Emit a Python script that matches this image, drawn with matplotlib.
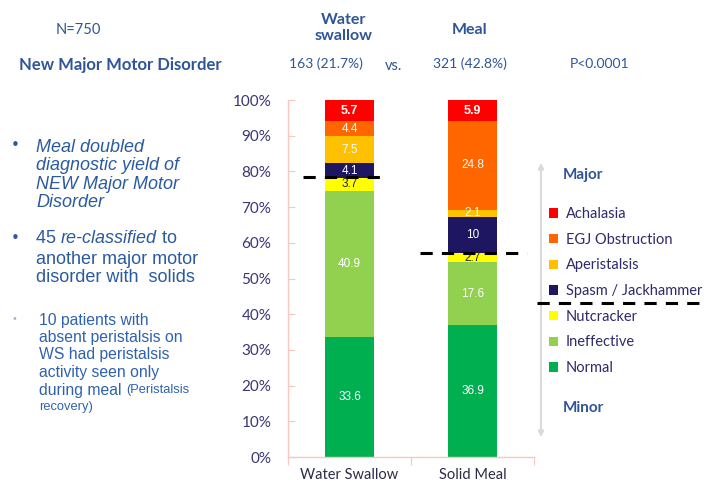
import matplotlib
matplotlib.use("Agg")
import matplotlib.pyplot as plt
from matplotlib.patches import Patch, FancyArrowPatch
from matplotlib.lines import Line2D
import numpy as np

categories = ["Water Swallow", "Solid Meal"]
series_names = ["Normal", "Ineffective", "Nutcracker", "Spasm / Jackhammer",
                "Aperistalsis", "EGJ Obstruction", "Achalasia"]
normal = [33.6, 36.9]
ineffective = [40.9, 17.6]
nutcracker = [3.7, 2.7]
spasm = [4.1, 10]
aperistalsis = [7.5, 2.1]
egj = [4.4, 24.8]
achalasia = [5.7, 5.9]
yticks = [0, 10, 20, 30, 40, 50, 60, 70, 80, 90, 100]
major_cut = [78.4, 57.1]

colors = ["#00B050", "#92D050", "#FFFF00", "#1E1660", "#FFC000", "#FF6600", "#FF0000"]
label_colors = ["white", "white", "#222222", "white", "white", "white", "white"]

W, H = 707, 486
fig = plt.figure(figsize=(W / 100, H / 100), dpi=100)
ax = fig.add_axes([288 / W, 1 - 457 / H, 246 / W, 357 / H])

series = [normal, ineffective, nutcracker, spasm, aperistalsis, egj, achalasia]
x = np.arange(len(categories))
bottom = np.zeros(len(categories))
for name, vals, col, lc in zip(series_names, series, colors, label_colors):
    vals = np.array(vals, dtype=float)
    ax.bar(x, vals, bottom=bottom, width=0.4, color=col, label=name, zorder=2)
    for xi, v, b in zip(x, vals, bottom):
        bold = name == "Achalasia"
        ax.text(xi, b + v / 2, f"{v:g}", ha="center", va="center",
                color=lc, fontsize=9 if bold else 8.5,
                fontweight="bold" if bold else "normal",
                family="Liberation Sans", zorder=4)
    bottom += vals

ax.set_xlim(-0.5, 1.5)
ax.set_ylim(0, 100)
ax.set_yticks(yticks)
ax.set_yticklabels([f"{t}%" for t in yticks])
ax.set_xticks([-0.5, 0.5, 1.5], minor=False)
ax.set_xticklabels([])
ax.set_xticks(x, minor=True)
ax.set_xticklabels(categories, minor=True)
ax.tick_params(axis="x", which="minor", length=0, pad=8, labelsize=10.5,
               labelcolor="#2B2B4A")
ax.tick_params(axis="x", which="major", length=6, direction="out", color="#F8C8C0")
ax.tick_params(axis="y", length=5, direction="in", color="#F8C8C0",
               labelsize=11, labelcolor="#3A3575", pad=12)
for lab in ax.get_yticklabels() + ax.get_xticklabels(minor=True):
    lab.set_family("Lato")
for s in ["top", "right"]:
    ax.spines[s].set_visible(False)
for s in ["left", "bottom"]:
    ax.spines[s].set_color("#F8C8C0")
    ax.spines[s].set_linewidth(1)

# dashed cut lines (major / minor boundary)
ax.plot([-0.38, 0.27], [major_cut[0]] * 2, ls=(0, (4, 3)), color="black", lw=2.2,
        clip_on=False, zorder=5)
ax.plot([0.57, 1.44], [major_cut[1]] * 2, ls=(0, (4, 3)), color="black", lw=2.2,
        clip_on=False, zorder=5)

# legend
handles = [Patch(facecolor=c, edgecolor="none") for c in colors][::-1]
leg = fig.legend(handles, series_names[::-1], loc="upper left",
                 bbox_to_anchor=(536 / W, 1 - 194 / H), frameon=False,
                 handlelength=0.6, handleheight=0.6, handletextpad=0.55,
                 labelspacing=0.8, prop={"family": "Lato", "size": 10.5})
for t in leg.get_texts():
    t.set_color("#2E2A6B")

fig.add_artist(Line2D([537 / W, 1.0], [1 - 303 / H] * 2, ls=(0, (4, 3)),
                      color="black", lw=2.2))
fig.patches.append(FancyArrowPatch(
    (541 / W, 1 - 160 / H), (541 / W, 1 - 440 / H), transform=fig.transFigure,
    arrowstyle="<|-|>", mutation_scale=8, color="#DADADA", lw=1.5))
blue = "#2F5597"
fig.text(583 / W, 1 - 175 / H, "Major", ha="center", va="center", color=blue,
         fontsize=11, fontweight="bold", family="Lato")
fig.text(583 / W, 1 - 408 / H, "Minor", ha="center", va="center", color=blue,
         fontsize=11, fontweight="bold", family="Lato")

# header
fig.text(78 / W, 1 - 30 / H, "N=750", ha="center", va="center", color=blue,
         fontsize=10.5, family="Lato")
fig.text(344 / W, 1 - 28 / H, "Water\nswallow", ha="center", va="center",
         color=blue, fontsize=11.5, fontweight="bold", family="Lato", linespacing=1.2)
fig.text(470 / W, 1 - 30 / H, "Meal", ha="center", va="center", color=blue,
         fontsize=11.5, fontweight="bold", family="Lato")
fig.text(120 / W, 1 - 65 / H, "New Major Motor Disorder", ha="center", va="center",
         color=blue, fontsize=12, fontweight="bold", family="Lato")
fig.text(326 / W, 1 - 64 / H, "163 (21.7%)", ha="center", va="center", color=blue,
         fontsize=10, family="Lato")
fig.text(394 / W, 1 - 66 / H, "vs.", ha="center", va="center", color=blue,
         fontsize=10.5, family="Lato")
fig.text(470 / W, 1 - 64 / H, "321 (42.8%)", ha="center", va="center", color=blue,
         fontsize=10, family="Lato")
fig.text(600 / W, 1 - 64 / H, "P<0.0001", ha="center", va="center", color=blue,
         fontsize=10, family="Lato")

renderer = fig.canvas.get_renderer()


def runs(x0, y, parts, **kw):
    """Draw consecutive text pieces on one line (x0, y in pixels from top-left)."""
    xp = x0
    for txt, style, size in parts:
        t = fig.text(xp / W, 1 - y / H, txt, ha="left", va="center",
                     style=style, fontsize=size, **kw)
        xp += t.get_window_extent(renderer).width


# left bullet text
tb = "#2A5AA0"
fs1 = 13
fig.text(15 / W, 1 - 145 / H, "•", ha="center", va="center", color=tb, fontsize=11)
fig.text(36 / W, 1 - 175 / H,
         "Meal doubled\ndiagnostic yield of\nNEW Major Motor\nDisorder",
         ha="left", va="center", color=tb, fontsize=fs1, style="italic",
         family="Liberation Sans", linespacing=1.1)
fig.text(15 / W, 1 - 238 / H, "•", ha="center", va="center", color=tb, fontsize=11)
runs(36, 238, [("45 ", "normal", fs1), ("re-classified", "italic", fs1),
               (" to", "normal", fs1)], color=tb, family="Liberation Sans")
fig.text(36 / W, 1 - 268.5 / H, "another major motor\ndisorder with  solids",
         ha="left", va="center", color=tb, fontsize=fs1, family="Liberation Sans",
         linespacing=1.1)
tb3 = "#2F62AD"
fs3 = 11.3
fig.text(14 / W, 1 - 319 / H, "•", ha="center", va="center", color="#9FB6D8",
         fontsize=7)
lines3 = ["10 patients with", "absent peristalsis on", "WS had peristalsis",
          "activity seen only"]
for i, ln in enumerate(lines3):
    fig.text(39 / W, 1 - (320 + 17.5 * i) / H, ln, ha="left", va="center",
             color=tb3, fontsize=fs3, family="Liberation Sans")
runs(39, 390, [("during meal ", "normal", fs3), ("(Peristalsis", "normal", 9.3)],
     color=tb3, family="Liberation Sans")
fig.text(39 / W, 1 - 407 / H, "recovery)", ha="left", va="center",
         color=tb3, fontsize=9.3, family="Liberation Sans")

fig.savefig("out.png", dpi=100, facecolor="white")
